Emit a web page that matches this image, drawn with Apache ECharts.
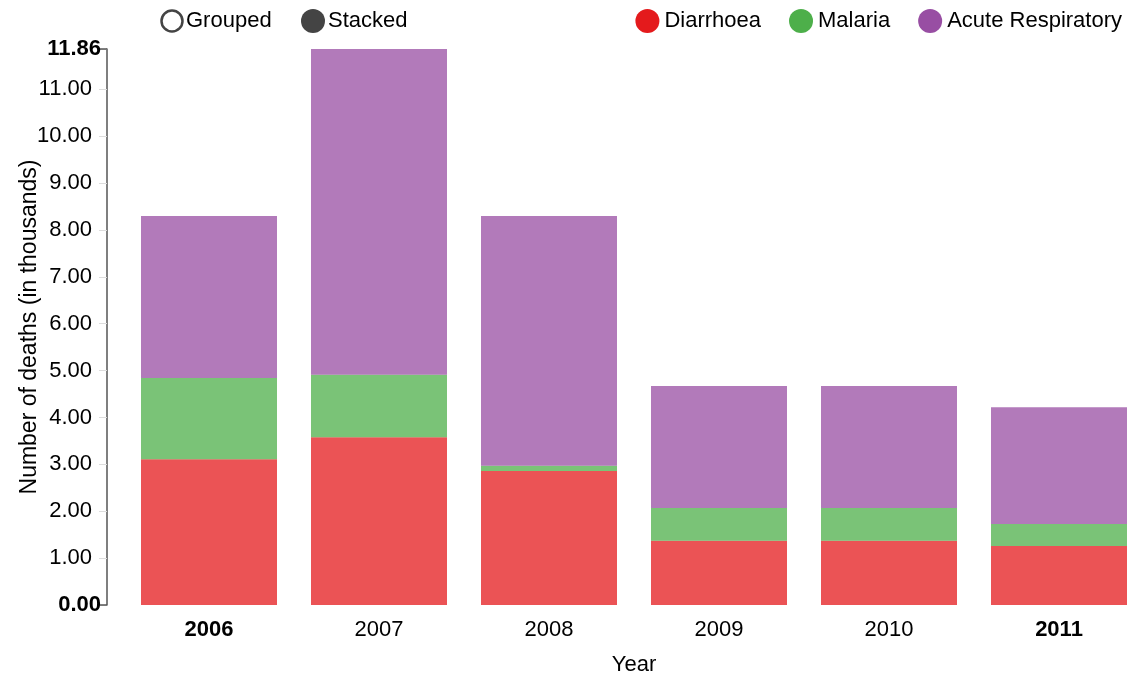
<!DOCTYPE html>
<html>
<head>
<meta charset="utf-8">
<script src="https://cdn.jsdelivr.net/npm/echarts@6/dist/echarts.min.js"></script>
<style>
  html, body { margin: 0; padding: 0; background: #fff; }
  #main { width: 1129px; height: 673px; }
</style>
</head>
<body>
<div id="main"></div>
<script>
var years = ['2006', '2007', '2008', '2009', '2010', '2011'];
var diarrhoea = [3.11, 3.58, 2.86, 1.37, 1.37, 1.26];
var malaria = [1.73, 1.33, 0.11, 0.70, 0.70, 0.47];
var acuteResp = [3.46, 6.95, 5.33, 2.60, 2.60, 2.49];
var yMax = 11.86;

var font = 'Liberation Sans, Arial, sans-serif';
var chart = echarts.init(document.getElementById('main'));

var cats = years.map(function (y, i) {
  var bold = (i === 0 || i === years.length - 1);
  return { value: y, textStyle: { fontWeight: bold ? 'bold' : 'normal' } };
});

function bar(name, color, data) {
  return {
    name: name,
    type: 'bar',
    stack: 'total',
    barCategoryGap: '20%',
    color: color,
    itemStyle: { opacity: 0.75 },
    emphasis: { disabled: true },
    data: data
  };
}

chart.setOption({
  animation: false,
  textStyle: { fontFamily: font },
  legend: {
    right: 2,
    top: 4,
    icon: 'circle',
    itemWidth: 24,
    itemHeight: 24,
    itemGap: 28,
    itemStyle: { opacity: 1 },
    textStyle: { fontSize: 22, color: '#000', fontFamily: font },
    data: ['Diarrhoea', 'Malaria', 'Acute Respiratory']
  },
  graphic: [
    { type: 'circle', shape: { cx: 172, cy: 21, r: 10.5 }, style: { fill: '#fff', stroke: '#444', lineWidth: 2.5 } },
    { type: 'text', x: 186, y: 21, style: { text: 'Grouped', font: '22px ' + font, fill: '#000', verticalAlign: 'middle' } },
    { type: 'circle', shape: { cx: 313, cy: 21, r: 12 }, style: { fill: '#444' } },
    { type: 'text', x: 328, y: 21, style: { text: 'Stacked', font: '22px ' + font, fill: '#000', verticalAlign: 'middle' } }
  ],
  grid: { left: 124, width: 1020, top: 49, bottom: 68, outerBoundsMode: 'none' },
  xAxis: {
    type: 'category',
    data: cats,
    name: 'Year',
    nameLocation: 'middle',
    nameGap: 49,
    nameTextStyle: { fontSize: 22, color: '#000' },
    axisLine: { show: false },
    axisTick: { show: false },
    axisLabel: { fontSize: 22, color: '#000', margin: 14 }
  },
  yAxis: [{
    type: 'value',
    min: 0,
    max: yMax,
    interval: 1,
    offset: 17,
    name: 'Number of deaths (in thousands)',
    nameLocation: 'middle',
    nameGap: 66,
    nameMoveOverlap: false,
    nameTextStyle: { fontSize: 23, color: '#000' },
    splitLine: { show: false },
    axisLine: { show: true, lineStyle: { color: '#555', width: 1.5 } },
    axisTick: { show: true, length: 8, lineStyle: { color: '#ddd' } },
    axisLabel: {
      fontSize: 22, color: '#000', margin: 15,
      formatter: function (v) {
        if (v === 0 || v >= yMax) return '';
        return v.toFixed(2);
      }
    }
  }, {
    type: 'value',
    position: 'left',
    min: 0,
    max: yMax,
    interval: yMax,
    offset: 17,
    splitLine: { show: false },
    axisLine: { show: false },
    axisTick: { show: true, length: 10, lineStyle: { color: '#555', width: 1.5 } },
    axisLabel: {
      fontSize: 22, color: '#000', fontWeight: 'bold', margin: 6,
      formatter: function (v) { return v.toFixed(2); }
    }
  }],
  series: [
    bar('Diarrhoea', '#e41a1c', diarrhoea),
    bar('Malaria', '#4daf4a', malaria),
    bar('Acute Respiratory', '#984ea3', acuteResp)
  ]
});
</script>
</body>
</html>
